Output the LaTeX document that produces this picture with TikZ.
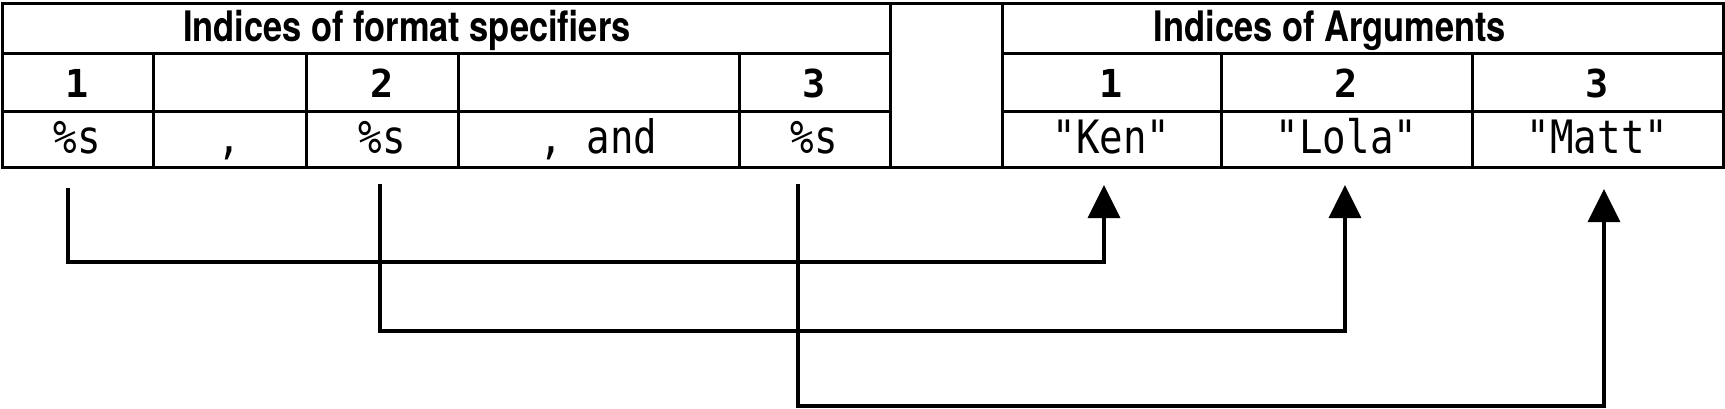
\documentclass[tikz,border=0pt]{standalone}
\usepackage{fontspec}
\newfontfamily\headfont[FakeStretch=0.82]{TeX Gyre Heros}
\newfontfamily\codefont[FakeStretch=0.85]{DejaVu Sans Mono}
\newfontfamily\numfont{DejaVu Sans Mono}
\usetikzlibrary{arrows.meta}

\begin{document}
\begin{tikzpicture}[x=1pt, y=-1pt,
    cell/.style={draw, line width=3pt, inner sep=0pt, text depth=0pt},
    numrow/.style={cell, minimum height=58pt, text height=30pt,
        font=\numfont\bfseries\fontsize{38.5}{38.5}\selectfont},
    valrow/.style={cell, minimum height=56pt, text height=28pt,
        font=\codefont\fontsize{46}{46}\selectfont},
    headtext/.style={anchor=base, inner sep=0pt,
        font=\headfont\bfseries\fontsize{42}{42}\selectfont},
    link/.style={line width=3.4pt, -{Triangle[length=33pt, width=32pt]}}
]

\useasboundingbox (0,0) rectangle (1725,409);

% Header cells
\node[cell, minimum width=888pt, minimum height=50pt] (hdrfmt) at (446,29) {};
\node[cell, minimum width=721pt, minimum height=50pt] (hdrarg) at (1362.5,29) {};
\node[headtext] (hdrfmttext) at (407,42) {Indices of format specifiers};
\node[headtext] (hdrargtext) at (1330,42) {Indices of Arguments};

% Empty gap between the tables
\node[cell, minimum width=112pt, minimum height=164pt] (gap) at (946,86) {};

% Format specifier indices
\node[numrow, minimum width=151pt] (fidx1) at (77.5,83) {1};
\node[numrow, minimum width=153pt] (fidxa) at (229.5,83) {};
\node[numrow, minimum width=152pt] (fidx2) at (382,83) {2};
\node[numrow, minimum width=281pt] (fidxb) at (598.5,83) {};
\node[numrow, minimum width=151pt] (fidx3) at (814.5,83) {3};

% Format string pieces
\node[valrow, minimum width=151pt] (fmt1) at (77.5,140) {\%s};
\node[valrow, minimum width=153pt] (fmta) at (229.5,140) {,};
\node[valrow, minimum width=152pt] (fmt2) at (382,140) {\%s};
\node[valrow, minimum width=281pt] (fmtb) at (598.5,140) {, and};
\node[valrow, minimum width=151pt] (fmt3) at (814.5,140) {\%s};

% Argument indices
\node[numrow, minimum width=219pt] (aidx1) at (1111.5,83) {1};
\node[numrow, minimum width=251pt] (aidx2) at (1346.5,83) {2};
\node[numrow, minimum width=251pt] (aidx3) at (1597.5,83) {3};

% Argument values
\node[valrow, minimum width=219pt] (arg1) at (1111.5,140) {"Ken"};
\node[valrow, minimum width=251pt] (arg2) at (1346.5,140) {"Lola"};
\node[valrow, minimum width=251pt] (arg3) at (1597.5,140) {"Matt"};

% Connector ends
\coordinate (spec1) at (68,188);
\coordinate (bend1) at (68,262);
\coordinate (tip1) at (1104,185);
\coordinate (spec2) at (380,184);
\coordinate (bend2) at (380,331);
\coordinate (tip2) at (1345,185);
\coordinate (spec3) at (798,184);
\coordinate (bend3) at (798,406);
\coordinate (tip3) at (1604,189);

% Specifier to argument
\draw[link] (spec1) -- (bend1) -| (tip1);
\draw[link] (spec2) -- (bend2) -| (tip2);
\draw[link] (spec3) -- (bend3) -| (tip3);

\end{tikzpicture}
\end{document}
